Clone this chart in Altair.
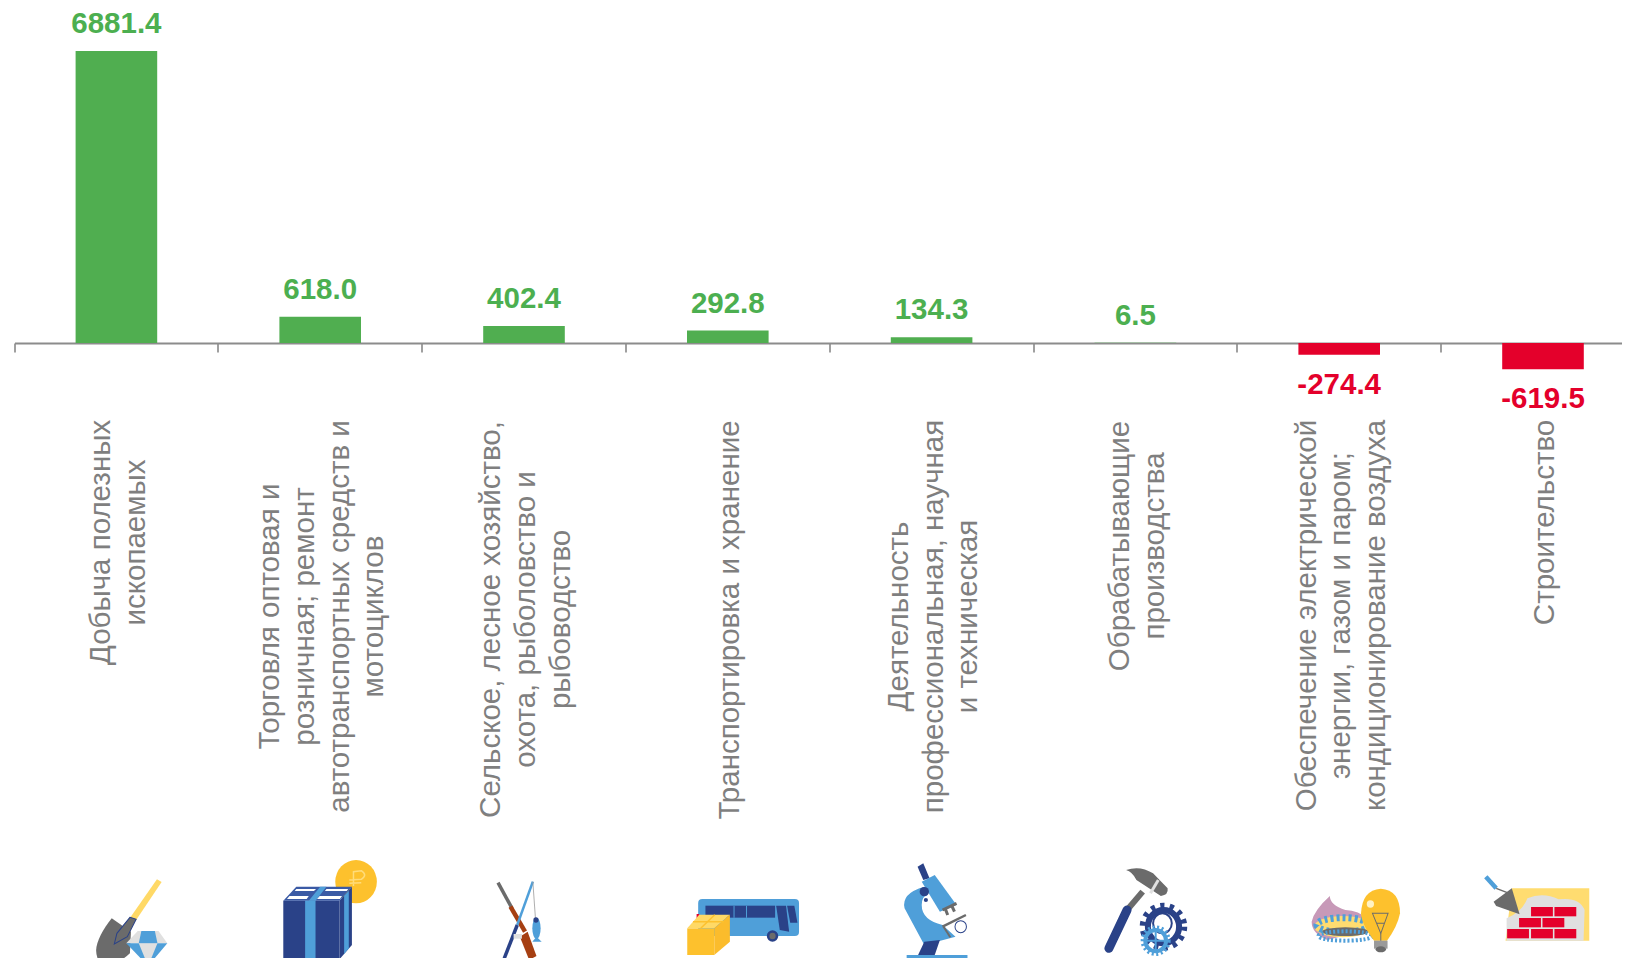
import base64
import altair as alt
import pandas as pd

categories = [
    "Добыча полезных\nископаемых",
    "Торговля оптовая и\nрозничная; ремонт\nавтотранспортных средств и\nмотоциклов",
    "Сельское, лесное хозяйство,\nохота, рыболовство и\nрыбоводство",
    "Транспортировка и хранение",
    "Деятельность\nпрофессиональная, научная\nи техническая",
    "Обрабатывающие\nпроизводства",
    "Обеспечение электрической\nэнергии, газом и паром;\nкондиционирование воздуха",
    "Строительство",
]
values = [6881.4, 618.0, 402.4, 292.8, 134.3, 6.5, -274.4, -619.5]
value_labels = ["6881.4", "618.0", "402.4", "292.8", "134.3", "6.5", "-274.4", "-619.5"]

GREEN, RED, BLUE, NAVY, GREY, YEL, LYEL, LG = "#50ae50", "#e4002b", "#4f9fd9", "#2a4288", "#6b6b6b", "#fdc12d", "#ffdc70", "#e0e0e0"

def poly(pts, fill):
    return f'<polygon points="{pts}" fill="{fill}"/>'

def line(a, b, c, d, col, w, cap="butt"):
    return f'<line x1="{a}" y1="{b}" x2="{c}" y2="{d}" stroke="{col}" stroke-width="{w}" stroke-linecap="{cap}" vector-effect="non-scaling-stroke"/>'

def ell(cx, cy, rx, ry, fill, extra=""):
    return f'<ellipse cx="{cx}" cy="{cy}" rx="{rx}" ry="{ry}" fill="{fill}" {extra}/>'

def rect(x, y, w, h, fill):
    return f'<rect x="{x}" y="{y}" width="{w}" height="{h}" fill="{fill}"/>'

def path(d, fill):
    return f'<path d="{d}" fill="{fill}"/>'

icon_shapes = [
    # shovel and diamond
    poly("302,148 311,156 262,270 250,264", "#ffd966")
    + path("M215,265 L252,305 L250,370 Q230,400 205,403 Q185,400 185,360 Q187,320 215,265 Z", GREY)
    + f'<polygon points="250,262 262,268 245,320 220,342 225,310" fill="{GREY}" stroke="{NAVY}" stroke-width="1" vector-effect="non-scaling-stroke"/>'
    + poly("265,303 305,303 322,340 243,340", LG) + poly("272,303 298,303 303,340 267,340", BLUE)
    + poly("243,340 322,340 285,408", BLUE) + poly("267,340 303,340 285,408", LG),
    # box and coin
    ell(685, 155, 40, 65, YEL)
    + f'<path d="M680,168 L680,125 L695,122 Q708,135 695,148 L672,150 M672,160 L695,158" fill="none" stroke="#ffdc7a" stroke-width="1.5" vector-effect="non-scaling-stroke"/>'
    + rect(545, 212, 108, 176, NAVY) + poly("653,212 677,170 677,345 653,388", NAVY)
    + poly("545,212 570,170 677,170 653,212", "#3a5aa5")
    + rect(587, 212, 20, 176, BLUE) + poly("662,197 671,182 671,355 662,372", BLUE)
    + poly("594,212 616,170 628,170 607,212", BLUE)
    + poly("570,177 608,177 604,183 567,183", "white") + poly("628,177 670,177 667,183 625,183", "white")
    + poly("557,198 594,198 590,207 552,207", "white") + poly("615,198 658,198 654,207 610,207", "white"),
    # rifle, rod and fish
    line(958, 158, 985, 235, GREY, 3.5) + line(982, 230, 1010, 305, "#a63f12", 4.5)
    + poly("1000,320 1015,305 1032,378 1018,390", "#a63f12")
    + line(1025, 155, 995, 285, BLUE, 2.5) + line(995, 285, 970, 385, NAVY, 3.5)
    + line(1025, 155, 1030, 265, "#9a9a9a", 0.8)
    + ell(1032, 295, 8, 32, BLUE) + poly("1032,320 1042,335 1024,335", BLUE) + ell(1031, 270, 5, 8, NAVY)
    + rect(988, 312, 16, 14, LG),
    # bus and parcel
    f'<rect x="1343" y="207" width="194" height="111" rx="8" ry="12" fill="{BLUE}"/>'
    + rect(1357, 227, 134, 36, NAVY) + line(1412, 227, 1412, 263, BLUE, 1) + line(1436, 227, 1436, 263, BLUE, 1)
    + poly("1493,227 1512,227 1518,305 1500,300", NAVY) + poly("1514,227 1528,227 1534,278 1520,278", NAVY)
    + ell(1486, 318, 11, 17, NAVY) + ell(1486, 318, 6, 10, GREY) + rect(1340, 252, 5, 20, RED)
    + rect(1322, 295, 52, 80, YEL) + poly("1322,295 1345,254 1404,254 1374,295", "#ffd966")
    + poly("1374,295 1404,254 1404,335 1374,375", "#fbbc2c")
    + line(1333, 275, 1393, 275, YEL, 1.5) + line(1375, 254, 1348, 295, YEL, 1.5),
    # microscope
    poly("197,110 208,100 220,145 208,150", NAVY) + poly("205,155 230,135 272,225 240,245", BLUE)
    + path("M210,170 Q165,190 172,235 L210,345 L270,320 L245,285 Q205,270 205,225 Q205,200 215,195 Z", BLUE)
    + ell(210, 185, 9, 14, NAVY) + ell(213, 210, 4, 6, NAVY)
    + line(245, 240, 272, 220, GREY, 3) + line(250, 235, 255, 255, GREY, 3) + line(263, 228, 268, 245, GREY, 3)
    + line(245, 290, 290, 255, GREY, 2.5) + line(247, 290, 260, 322, GREY, 2)
    + ell(280, 290, 11, 18, "white", f'stroke="{NAVY}" stroke-width="1" vector-effect="non-scaling-stroke"')
    + poly("210,335 240,330 230,375 198,375", NAVY) + rect(176, 375, 117, 15, BLUE) + rect(176, 390, 117, 5, NAVY),
    # hammer and gears
    path("M598,120 Q625,105 650,130 L678,175 Q680,195 665,198 L618,150 Q610,125 598,120 Z", GREY)
    + line(660, 150, 645, 190, LG, 3) + line(630, 185, 600, 240, GREY, 6)
    + line(600, 240, 565, 355, NAVY, 9, "round")
    + ell(670, 290, 38, 60, "none", f'stroke="{NAVY}" stroke-width="8" stroke-dasharray="4 5" vector-effect="non-scaling-stroke"')
    + ell(670, 290, 30, 50, "none", f'stroke="{NAVY}" stroke-width="6" vector-effect="non-scaling-stroke"')
    + ell(668, 280, 18, 30, "none", f'stroke="{NAVY}" stroke-width="2" vector-effect="non-scaling-stroke"')
    + ell(655, 332, 25, 40, "none", f'stroke="{BLUE}" stroke-width="4" stroke-dasharray="2 2.5" vector-effect="non-scaling-stroke"')
    + ell(655, 332, 20, 32, "none", f'stroke="{BLUE}" stroke-width="4" vector-effect="non-scaling-stroke"')
    + line(655, 300, 655, 364, BLUE, 2) + line(637, 332, 673, 332, BLUE, 2),
    # burner and bulb
    path("M990,198 Q990,225 1020,240 Q1045,240 1065,270 L1060,300 L985,330 Q955,310 955,275 Q960,240 990,198 Z", "#c799b8")
    + ell(1015, 290, 55, 32, "#ffdc70")
    + ell(1015, 285, 50, 22, "none", f'stroke="{BLUE}" stroke-width="7" stroke-dasharray="3 3" vector-effect="non-scaling-stroke"')
    + ell(1020, 305, 45, 13, GREY)
    + ell(1020, 318, 52, 14, "none", f'stroke="{BLUE}" stroke-width="4" stroke-dasharray="2 2" vector-effect="non-scaling-stroke"')
    + path("M1088,176 Q1125,180 1125,250 Q1120,290 1100,332 L1075,332 Q1050,280 1050,250 Q1052,180 1088,176 Z", YEL)
    + ell(1068, 222, 7, 11, "#fff2c4")
    + f'<path d="M1072,250 L1088,310 L1102,250 Z M1080,280 L1095,280" fill="none" stroke="{GREY}" stroke-width="1" vector-effect="non-scaling-stroke"/>'
    + line(1088, 310, 1088, 335, GREY, 1) + rect(1075, 332, 26, 24, "#9a9a9a") + ell(1088, 358, 10, 9, GREY),
    # trowel and brick wall
    poly("1340,175 1489,175 1489,332 1328,332", "#ffdc70")
    + path("M1330,332 L1330,265 Q1360,245 1370,205 Q1400,185 1430,208 Q1470,200 1480,240 L1478,332 Z", LG)
    + "".join(rect(x, y, 42, 28, RED) for x, y in [(1377, 231), (1422, 231), (1354, 264), (1399, 264),
                                                   (1331, 297), (1377, 297), (1422, 297)])
    + poly("1340,175 1355,253 1310,228 1305,215", GREY)
    + line(1290, 140, 1310, 175, BLUE, 4.5) + line(1310, 175, 1335, 190, GREY, 1.5),
]

def icon_uri(i):
    x0 = 28 + 392 * (i % 4)
    svg = (f'<svg xmlns="http://www.w3.org/2000/svg" width="204" height="136" viewBox="{x0} 0 392 408" '
           f'preserveAspectRatio="none">{icon_shapes[i]}</svg>')
    return "data:image/svg+xml;base64," + base64.b64encode(svg.encode()).decode()

# lengths of the longest line of every rotated label, in pixels
label_lengths = [245, 393, 399, 400, 393, 252, 391, 205]

LEFT = 6.5
SVG_W, SVG_H = 1614, 950
STEP = 203.8
AXIS_Y = 335
PX_PER_UNIT = 292 / 6881.4
LABEL_TOP = 412
LINE_H = 34.7

df = pd.DataFrame({
    "key": list(range(8)),
    "category": categories,
    "value": values,
    "label": value_labels,
    "icon": [icon_uri(i) for i in range(8)],
    "label_mid": [LABEL_TOP + l / 2 for l in label_lengths],
    "lines": [c.split("\n") for c in categories],
    "n_lines": [c.count("\n") + 1 for c in categories],
})

x = alt.X("key:O", title=None, sort=None,
          scale=alt.Scale(range=[0, STEP * 8], paddingInner=0, paddingOuter=0, round=False),
          axis=alt.Axis(labels=False, title=None, grid=False, bandPosition=0, offset=-(SVG_H - AXIS_Y),
                        domainColor="#8c8c8c", domainWidth=2, tickColor="#808080", tickWidth=1.5, tickSize=9))
y = alt.Y("value:Q", title=None,
          scale=alt.Scale(domain=[-(SVG_H - AXIS_Y) / PX_PER_UNIT, AXIS_Y / PX_PER_UNIT], nice=False, zero=False),
          axis=None)
colour = alt.condition("datum.value >= 0", alt.value(GREEN), alt.value(RED))

bars = alt.Chart(df).mark_bar(size=81.6).encode(x=x, y=y, y2=alt.datum(0), color=colour)

text_pos = alt.Chart(df).transform_filter("datum.value >= 0").mark_text(
    font="Liberation Sans", fontSize=29.5, fontWeight="bold", baseline="alphabetic", dy=-18, color="#4caf50"
).encode(x=x, y=y, text="label:N")
text_neg = alt.Chart(df).transform_filter("datum.value < 0").mark_text(
    font="Liberation Sans", fontSize=29.5, fontWeight="bold", baseline="alphabetic", dy=39, color=RED
).encode(x=x, y=y, text="label:N")

# one text layer per line count, so that every rotated block is centred on its band
cat_layers = [
    alt.Chart(df).transform_filter(f"datum.n_lines == {n}").mark_text(
        font="Liberation Sans", fontSize=29.5, color="#7f7f7f", angle=270, align="center", baseline="middle",
        lineHeight=LINE_H, dy=2 - (n - 1) / 2 * LINE_H
    ).encode(x=x, y=alt.Y("label_mid:Q", scale=None, axis=None), text="lines:N")
    for n in (1, 2, 3, 4)
]

icons = alt.Chart(df).mark_image(width=203.8, height=136, align="center", baseline="middle").encode(
    x=x, y=alt.value(890), url="icon:N"
)

chart = (
    alt.layer(bars, text_pos, text_neg, *cat_layers, icons)
    .resolve_scale(y="independent")
    .properties(
        width=SVG_W - LEFT, height=SVG_H,
        autosize=alt.AutoSizeParams(type="none"),
        padding={"left": LEFT, "top": 0, "right": 0, "bottom": 0},
        background="white",
    )
    .configure_view(stroke=None)
)
chart.save("out.html", embed_options={"renderer": "svg", "actions": False})
